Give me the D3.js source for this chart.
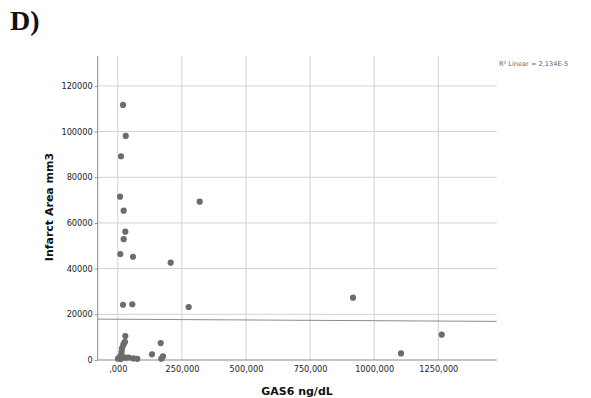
<!DOCTYPE html>
<html>
<head>
<meta charset="utf-8">
<script src="https://cdn.jsdelivr.net/npm/d3@7"></script>
<style>
  html, body { margin: 0; padding: 0; background: #fff; }
  svg { display: block; }
</style>
</head>
<body>
<svg id="chart" width="591" height="398"></svg>
<script>
// GAS6 concentration (ng/dL) against infarct area (mm3)
const gas6 = [
  20300, 30800, 12500, 8600, 319400, 23000, 29300, 23000, 9800, 59300, 206300,
  20300, 56600, 276500, 917300, 1263300, 1104500,
  29300, 167300, 133400, 176300, 169700,
  28000, 21500, 16400, 15200, 12500, 5900, 21500, 32000, 42500, 60500, 76000, 800, 11300, 24000
];
const infarct = [
  111700, 98100, 89200, 71500, 69300, 65400, 56200, 52900, 46400, 45200, 42600,
  24200, 24400, 23200, 27300, 11100, 2900,
  10500, 7400, 2500, 1600, 600,
  8000, 6600, 5100, 3600, 2200, 1200, 1200, 1000, 1100, 700, 500, 600, 400, 7300
];

const xTicks = [0, 250000, 500000, 750000, 1000000, 1250000];
const xTickLabels = [",000", "250,000", "500,000", "750,000", "1000,000", "1250,000"];
const yTicks = [0, 20000, 40000, 60000, 80000, 100000, 120000];

// Linear fit shown across the plot
const fitIntercept = 17850;
const fitSlope = -0.00064;
const r2Label = "R\u00B2 Linear = 2,134E-5";

const svg = d3.select("#chart");
const font = "'DejaVu Sans', 'Noto Sans', sans-serif";

const x = d3.scaleLinear().domain([-78400, 1477800]).range([97.7, 496.7]);
const y = d3.scaleLinear().domain([0, 133100]).range([360, 56]);

// Panel letter
svg.append("text")
  .attr("x", 10).attr("y", 30)
  .attr("font-family", "'Liberation Serif', 'DejaVu Serif', serif")
  .attr("font-weight", "bold")
  .attr("font-size", 28)
  .attr("fill", "#111")
  .text("D)");

// Gridlines
const grid = svg.append("g").attr("stroke", "#d2d2d2").attr("stroke-width", 1);
grid.selectAll("line.v").data(xTicks).join("line")
  .attr("class", "v")
  .attr("x1", d => x(d)).attr("x2", d => x(d))
  .attr("y1", y.range()[1]).attr("y2", y.range()[0]);
grid.selectAll("line.h").data(yTicks.filter(d => d > 0)).join("line")
  .attr("class", "h")
  .attr("x1", x.range()[0]).attr("x2", x.range()[1])
  .attr("y1", d => y(d)).attr("y2", d => y(d));

// Axes
const xAxis = d3.axisBottom(x).tickValues(xTicks)
  .tickFormat((d, i) => xTickLabels[i]).tickSize(0).tickPadding(6);
const gx = svg.append("g").attr("transform", `translate(0,${y.range()[0]})`).call(xAxis);
gx.select(".domain").remove();
gx.selectAll("text").attr("font-family", font).attr("font-size", 8.2).attr("fill", "#222");

const yAxis = d3.axisLeft(y).tickValues(yTicks).tickFormat(d3.format("d")).tickSize(3).tickPadding(2);
const gy = svg.append("g").attr("transform", `translate(${x.range()[0]},0)`).call(yAxis);
gy.select(".domain").remove();
gy.selectAll(".tick line").attr("stroke", "#999");
gy.selectAll("text").attr("font-family", font).attr("font-size", 8.2).attr("fill", "#222");

// Axis frame lines
svg.append("line")
  .attr("x1", x.range()[0]).attr("x2", x.range()[0])
  .attr("y1", y.range()[1]).attr("y2", y.range()[0])
  .attr("stroke", "#8a8a8a").attr("stroke-width", 1);
svg.append("line")
  .attr("x1", x.range()[0]).attr("x2", x.range()[1])
  .attr("y1", y.range()[0]).attr("y2", y.range()[0])
  .attr("stroke", "#8a8a8a").attr("stroke-width", 1);

// Fit line
const [fx0, fx1] = x.domain();
svg.append("line")
  .attr("x1", x(fx0)).attr("y1", y(fitIntercept + fitSlope * fx0))
  .attr("x2", x(fx1)).attr("y2", y(fitIntercept + fitSlope * fx1))
  .attr("stroke", "#8c8c8c").attr("stroke-width", 1);

// Points
svg.append("g").selectAll("circle").data(gas6.map((g, i) => [g, infarct[i]])).join("circle")
  .attr("cx", d => x(d[0])).attr("cy", d => y(d[1]))
  .attr("r", 3.1)
  .attr("fill", "#6c6c6c");

// Axis titles
svg.append("text")
  .attr("x", 297).attr("y", 395)
  .attr("text-anchor", "middle")
  .attr("font-family", font).attr("font-weight", "bold").attr("font-size", 11)
  .attr("fill", "#111")
  .text("GAS6 ng/dL");

svg.append("text")
  .attr("transform", "translate(53,207) rotate(-90)")
  .attr("text-anchor", "middle")
  .attr("font-family", font).attr("font-weight", "bold").attr("font-size", 11)
  .attr("fill", "#111")
  .text("Infarct Area mm3");

// Fit statistic
svg.append("text")
  .attr("x", 499).attr("y", 66)
  .attr("font-family", font).attr("font-size", 6.6)
  .attr("fill", "#666")
  .text(r2Label);
</script>
</body>
</html>
